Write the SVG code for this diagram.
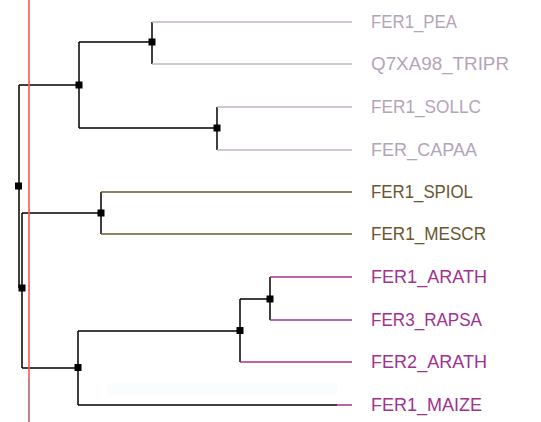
<svg xmlns="http://www.w3.org/2000/svg" width="541" height="422" viewBox="0 0 541 422">
<style>
.br{stroke:#000;stroke-width:1.5;fill:none}
.lt{stroke:#c4b4c8;stroke-width:1.5;fill:none}
.lb{stroke:#6e5a32;stroke-width:1.5;fill:none}
.lm{stroke:#a53293;stroke-width:1.5;fill:none}
.nd{fill:#000}
text{font-family:"Liberation Sans",Arial,sans-serif;font-size:17.5px}
.tt{fill:#b4a4b9}
.tb{fill:#6a5530}
.tm{fill:#a2318f}
</style>
<rect width="541" height="422" fill="#fff"/>
<rect x="107" y="383" width="230" height="12" fill="#fafdfe"/>
<g id="connectors">
<path class="br" d="M152,22V64M217,107V150M79,42V128M79,42H152M79,128H217M19,85V288M19,85H79M19,288H22M22,213V368M22,213H101M22,368H78M101,192V234M78,331V405M78,331H240M78,405H337M240,299V362M240,299H270M270,277V320"/>
<path class="lt" d="M152,22H352M152,64H352M217,107H352M217,150H352"/>
<path class="lb" d="M101,192H352M101,234H352"/>
<path class="lm" d="M270,277H352M270,320H352M240,362H352M337,405H352"/>
</g>
<g id="nodes">
<rect class="nd" x="148.5" y="38.5" width="7" height="7"/>
<rect class="nd" x="213.5" y="124.5" width="7" height="7"/>
<rect class="nd" x="75.5" y="81.5" width="7" height="7"/>
<rect class="nd" x="15" y="182.5" width="7" height="7"/>
<rect class="nd" x="18.5" y="284.5" width="7" height="7"/>
<rect class="nd" x="97.5" y="209.5" width="7" height="7"/>
<rect class="nd" x="74.5" y="364" width="7" height="7"/>
<rect class="nd" x="236.5" y="327" width="7" height="7"/>
<rect class="nd" x="266.5" y="295.5" width="7" height="7"/>
</g>
<g id="leaf-FER1_PEA"><text class="tt" x="371" y="27.5" textLength="86" lengthAdjust="spacingAndGlyphs">FER1_PEA</text></g>
<g id="leaf-Q7XA98_TRIPR"><text class="tt" x="371" y="69.5" textLength="138" lengthAdjust="spacingAndGlyphs">Q7XA98_TRIPR</text></g>
<g id="leaf-FER1_SOLLC"><text class="tt" x="371" y="112.5" textLength="110" lengthAdjust="spacingAndGlyphs">FER1_SOLLC</text></g>
<g id="leaf-FER_CAPAA"><text class="tt" x="371" y="155.5" textLength="106" lengthAdjust="spacingAndGlyphs">FER_CAPAA</text></g>
<g id="leaf-FER1_SPIOL"><text class="tb" x="371" y="197.5" textLength="102" lengthAdjust="spacingAndGlyphs">FER1_SPIOL</text></g>
<g id="leaf-FER1_MESCR"><text class="tb" x="371" y="239.5" textLength="115" lengthAdjust="spacingAndGlyphs">FER1_MESCR</text></g>
<g id="leaf-FER1_ARATH"><text class="tm" x="371" y="282.5" textLength="116" lengthAdjust="spacingAndGlyphs">FER1_ARATH</text></g>
<g id="leaf-FER3_RAPSA"><text class="tm" x="371" y="325.5" textLength="111" lengthAdjust="spacingAndGlyphs">FER3_RAPSA</text></g>
<g id="leaf-FER2_ARATH"><text class="tm" x="371" y="367.5" textLength="116" lengthAdjust="spacingAndGlyphs">FER2_ARATH</text></g>
<g id="leaf-FER1_MAIZE"><text class="tm" x="371" y="410.5" textLength="111" lengthAdjust="spacingAndGlyphs">FER1_MAIZE</text></g>
<g id="marker-line">
<path d="M29,0V378" stroke="#ff5555" stroke-width="1.6"/>
<path d="M29,378V422" stroke="#a86a6a" stroke-width="1.6"/>
</g>
</svg>
